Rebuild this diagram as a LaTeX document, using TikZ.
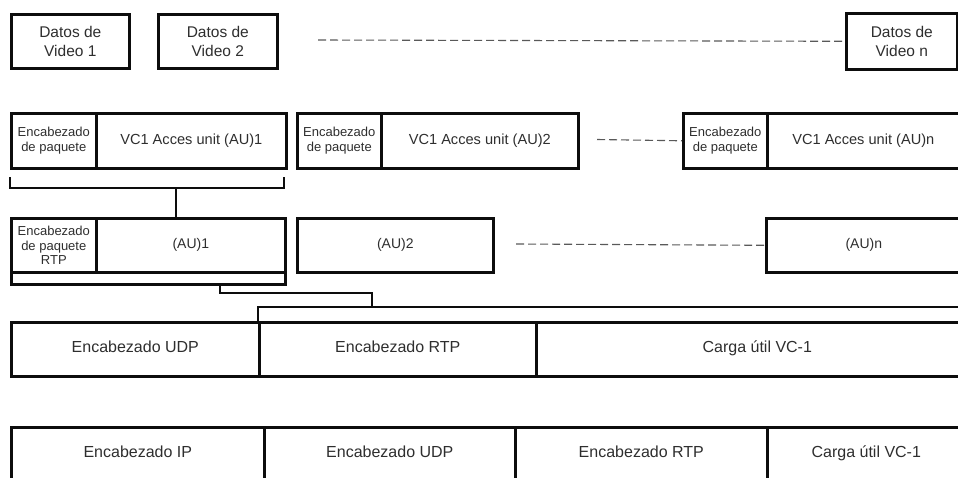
\documentclass[tikz,border=0pt]{standalone}
\usepackage{fontspec}
\setmainfont{Liberation Sans}
\begin{document}
\begin{tikzpicture}[x=1pt,y=-1pt,
  box/.style={draw=black!95, line width=2.6pt, inner sep=0pt, anchor=north west,
    align=center, text=black!82},
  oneline/.style={align=none, text height=0.72em, text depth=0.02em},
  big/.style={oneline, font=\fontsize{16}{19}\selectfont},
  mid/.style={font=\fontsize{15.5}{18.5}\selectfont},
  unit/.style={oneline, font=\fontsize{14.6}{17}\selectfont},
  small/.style={font=\fontsize{13}{14.5}\selectfont},
  au/.style={oneline, font=\fontsize{14}{16}\selectfont},
  link/.style={draw=black!95, line width=2.6pt},
  dashline/.style={draw=black!65, line width=1.1pt, dash pattern=on 8pt off 4pt}]
\useasboundingbox (0,0) rectangle (958,477);
\clip (0,0) rectangle (958,477);

% video data blocks
\node[box,mid,minimum width=118pt,minimum height=54pt] (vid1) at (10,13) {Datos de\\Video 1};
\node[box,mid,minimum width=119pt,minimum height=54pt] (vid2) at (157,13) {Datos de\\Video 2};
\node[box,mid,minimum width=111pt,minimum height=56pt] (vidn) at (845,12) {Datos de\\Video n};
\coordinate (d1) at (318,40);
\draw[dashline] (d1) -- (vidn.west);

% access units with packet header
\node[box,small,minimum width=85pt,minimum height=55pt] (hdr1) at (10,112) {Encabezado\\de paquete};
\node[box,unit,minimum width=190pt,minimum height=55pt] (vc1) at (95,112) {VC1 Acces unit (AU)1};
\node[box,small,minimum width=84pt,minimum height=55pt] (hdr2) at (296,112) {Encabezado\\de paquete};
\node[box,unit,minimum width=197pt,minimum height=55pt] (vc2) at (380,112) {VC1 Acces unit (AU)2};
\node[box,small,minimum width=84pt,minimum height=55pt] (hdrn) at (682,112) {Encabezado\\de paquete};
\node[box,unit,minimum width=192pt,minimum height=55pt] (vcn) at (766,112) {VC1 Acces unit (AU)n};
\coordinate (d2) at (597,139.5);
\draw[dashline] (d2) -- (hdrn.west);

% bracket under the first access unit
\coordinate (bl) at (10,177);
\coordinate (br) at (284,177);
\coordinate (stem) at (176,188);
\draw[link] (bl) |- (stem) -| (br);

% RTP packets
\node[box,small,minimum width=85pt,minimum height=54pt] (rtph) at (10,217) {Encabezado\\de paquete\\RTP};
\node[box,au,minimum width=189pt,minimum height=54pt] (au1) at (95,217) {(AU)1};
\node[box,minimum width=274pt,minimum height=12pt] (strip) at (10,271) {};
\node[box,au,minimum width=196pt,minimum height=54pt] (au2) at (296,217) {(AU)2};
\node[box,au,minimum width=195pt,minimum height=54pt] (aun) at (765,217) {(AU)n};
\coordinate (d3) at (516,244);
\draw[dashline] (d3) -- (aun.west);
\draw[link] (stem) -- (stem |- au1.north);

% UDP datagram
\node[box,big,minimum width=248pt,minimum height=54pt] (udp4) at (10,321) {Encabezado UDP};
\node[box,big,minimum width=277pt,minimum height=54pt] (rtp4) at (258,321) {Encabezado RTP};
\node[box,big,minimum width=442pt,minimum height=54pt] (pay4) at (535,321) {Carga útil VC-1};

% link from the RTP packet to the UDP payload
\coordinate (c1) at (220,293);
\coordinate (c2) at (372,307);
\coordinate (ul) at (258,307);
\coordinate (ur) at (980,307);
\draw[link] (c1 |- strip.south) -- (c1) -| (c2);
\draw[link] (rtp4.north west) -- (ul) -- (ur);

% IP datagram
\node[box,big,minimum width=253pt,minimum height=54pt] (ip5) at (10,426) {Encabezado IP};
\node[box,big,minimum width=251pt,minimum height=54pt] (udp5) at (263,426) {Encabezado UDP};
\node[box,big,minimum width=252pt,minimum height=54pt] (rtp5) at (514,426) {Encabezado RTP};
\node[box,big,minimum width=198pt,minimum height=54pt] (pay5) at (766,426) {Carga útil VC-1};
\end{tikzpicture}
\end{document}
